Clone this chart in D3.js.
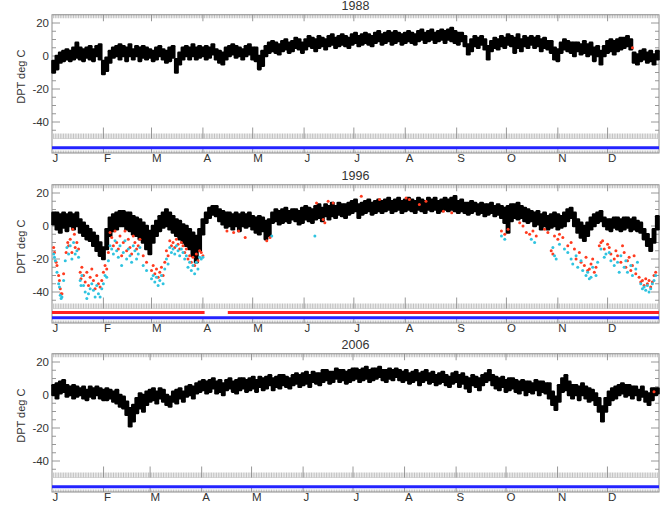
<!DOCTYPE html>
<html><head><meta charset="utf-8">
<script src="https://cdn.jsdelivr.net/npm/d3@7"></script>
<style>body{margin:0;background:#fff}svg{display:block}</style>
</head><body>
<svg id="c" width="667" height="513"></svg>
<script>
// ---------------- DATA ----------------
const years = [1988, 1996, 2006];
const monthLabels = ["J","F","M","A","M","J","J","A","S","O","N","D"];
const yTickValues = [20, 0, -20, -40];
const yLabel = "DPT deg C";
const binDays = 2; // each lo/hi entry covers 2 days

// black series: 2-day low / high of dew point (deg C)
const dpt1988Lo = [-10,-8,-4,-3,-2,-3,-2,-1,-2,-3, -1,-2,-3,0,-2,-11,-9,-4,-1,0, -2,0,-3,0,-2,0,-3,-1,-2,-1, -3,-2,0,-2,-4,-3,-1,-10,-5,-2,
  0,-2,0,-2,-1,0,-2,-1,1,-2, -4,-5,-2,0,1,-1,0,-2,0,1, -2,-3,-8,-6,0,2,3,2,1,3, 4,2,3,5,4,2,4,6,5,3, 5,6,4,6,7,5,6,7,6,5,
  7,8,6,7,8,7,6,8,9,7, 8,9,7,8,9,7,8,9,8,7, 9,10,8,9,10,8,9,10,8,10, 9,8,7,9,6,1,3,6,5,7, 4,-2,3,5,4,6,5,7,6,2,
  5,3,6,5,7,5,6,3,5,4, 2,-2,-3,2,4,3,2,0,3,1, 2,0,1,-3,0,-5,0,2,3,1, 3,4,5,6,4,-4,-5,-3,-2,-4,-3,-5,-2];
const dpt1988Hi = [-3,0,2,3,4,3,5,8,5,4, 5,6,4,6,7,-3,-1,3,5,6, 7,6,5,7,4,6,5,6,5,4, 3,5,6,4,3,5,6,-2,2,5,
  6,5,7,5,6,5,6,5,7,4, 3,2,5,6,7,6,5,4,6,7, 5,5,0,3,6,8,9,8,7,9, 10,8,9,11,10,8,10,12,11,10, 12,11,10,12,13,11,12,13,12,11,
  13,14,12,13,14,13,12,14,15,13, 14,15,14,15,14,13,14,15,14,13, 15,16,14,15,16,14,15,16,15,16, 17,15,14,14,12,7,10,12,11,12, 10,6,9,11,10,12,11,13,12,11,
  13,10,12,11,12,11,12,10,11,9, 9,5,4,8,10,9,8,8,8,7, 9,7,8,5,6,3,6,9,10,9, 10,11,11,12,10,2,1,3,4,2,3,1,3];

const dpt1996Lo = [1,-2,-4,-1,-3,0,-2,0,-4,-6, -8,-9,-12,-15,-18,-20,-14,-6,-3,-2, 0,0,-2,-3,-5,-6,-8,-10,-14,-17, -10,-6,-3,-1,0,-2,-4,-6,-8,-10,
  -12,-14,-18,-22,-15,-5,2,5,7,6, 3,1,-1,0,-2,0,-3,0,-1,0, -2,-4,-5,-3,-8,-6,2,3,1,2, 3,2,4,3,1,2,4,3,2,4, 5,3,6,4,6,5,7,6,5,7,
  8,9,5,7,8,9,7,8,9,8, 9,10,8,9,10,8,9,10,9,8, 10,9,8,10,9,10,8,9,10,9, 10,9,8,9,8,7,8,9,7,8, 6,7,8,6,7,5,2,-4,3,5,
  4,5,3,2,3,0,1,-2,0,-2, -1,0,-2,-1,0,3,5,0,-4,-7, -9,-6,-2,0,2,3,0,-2,-3,-1, -2,-3,-2,-1,-3,-2,-3,-4,-8,-12,-15,-10,-2];
const dpt1996Hi = [8,8,7,8,7,8,7,8,4,2, 0,-2,-4,-6,-10,-13,-2,5,7,8, 9,9,8,8,6,5,4,2,0,-3, 0,3,6,8,10,8,6,4,3,1,
  0,-2,-4,-6,-2,4,8,11,12,12, 10,9,8,8,7,8,7,8,7,8, 6,5,6,5,3,4,8,10,9,10, 11,9,10,10,9,11,12,11,10,12, 13,11,13,12,14,12,14,13,13,14,
  15,16,13,14,15,16,14,15,16,15, 16,17,15,16,17,15,16,17,16,15, 17,16,15,17,16,17,15,16,17,16, 17,18,15,16,14,14,15,14,13,14, 13,13,14,12,13,12,11,12,13,13,
  14,12,11,10,9,8,9,7,8,6, 7,8,7,6,8,10,11,8,4,2, 0,2,5,7,8,9,5,4,4,5, 5,4,5,5,4,5,3,2,-2,-5,-8,-2,6];

const dpt2006Lo = [0,-2,1,2,-1,0,-2,-1,0,-2, -3,-1,-2,0,-2,-3,-3,-2,-4,-5, -7,-8,-12,-19,-16,-11,-8,-10,-6,-4, -3,-5,-2,-4,-6,-7,-4,-5,-2,-4,
  -1,0,-2,1,2,3,1,2,4,1, 2,0,3,4,2,1,3,4,2,3, 4,2,5,3,4,6,3,5,4,6, 5,4,6,7,5,6,7,5,8,7, 6,8,9,7,8,10,8,9,7,8,
  9,10,8,9,10,8,9,10,11,9, 8,10,9,11,9,8,9,7,8,9, 6,8,9,7,8,6,7,8,6,5, 7,8,5,7,4,2,6,5,3,6, 8,9,6,4,3,5,2,3,4,2,
  1,3,0,2,1,3,0,2,1,-2, -6,-9,-4,2,3,0,-2,0,-3,0, -2,-4,-3,-6,-10,-16,-10,-6,-3,-2, 0,1,-1,0,-2,0,-3,-1,-4,-6,-3,0,1];
const dpt2006Hi = [6,7,8,9,6,5,6,5,4,5, 3,5,4,5,4,3,4,3,2,3, 0,-1,-4,-8,-6,-2,1,0,2,3, 4,2,4,3,0,-1,2,3,4,2,
  5,6,5,7,8,9,8,9,10,8, 9,7,9,10,8,9,10,10,9,10, 11,9,11,10,11,12,10,11,12,12, 11,10,12,13,12,13,14,12,14,13, 13,15,15,14,14,16,15,15,14,15,
  16,16,15,16,17,15,16,16,17,15, 15,16,15,16,15,14,15,13,14,15, 13,14,15,13,14,12,13,14,12,11, 13,14,12,13,11,10,12,11,10,12, 13,15,12,11,10,11,9,10,10,9,
  8,9,8,8,7,9,8,8,7,7, 2,-1,6,10,12,8,6,6,5,7, 5,4,3,1,-2,-7,-2,2,4,5, 6,7,6,6,5,5,3,5,2,1,4,4,4];

// red series points [day of year, deg C]
const red1988 = [[350, 5]];
const red1996 = [[1,-13],[1.5,-16],[2.5,-22],[3,-24],[4,-30],[4.5,-33],[5,-38],[5.5,-41],[6,-41],[7,-29],[8.5,-16],[9.5,-10],[10,-12],[11,-8],[12,-16],[12.5,-2],[13.5,-5],[14,-13],[15,-10],[16,-14],
  [17,-28],[17.5,-32],[18,-25],[19,-30],[20,-34],[21,-28],[22,-36],[23,-31],[24,-26],[25,-33],[26,-38],[27,-30],[28,-35],[29,-37],[30,-33],[31,-28],[32,-24],[33,-26],[34,-16],[35,-4],
  [36,-7],[37,-12],[38,-3],[39,-10],[40,-14],[41,-6],[42,-18],[43,-10],[44,-3],[45,-15],[46,-8],[47,-13],[48,-17],[49,-6],[50,-10],[51,-14],[52,-12],[53,-8],[55,-18],[57,-22],
  [60,-27],[61,-24],[62,-29],[63,-26],[64,-31],[65,-28],[66,-25],[67,-30],[68,-22],[69,-15],[70,-18],[71,-9],[72,-12],[73,-10],[74,-13],[75,-8],[76,-11],[77,-14],[78,-10],[79,-12],
  [80,-16],[81,-14],[82,-20],[83,-18],[84,-22],[85,-19],[86,-24],[87,-17],[88,-21],[89,-15],[90,-16],[91,-18],
  [105.5,-3],[109.5,-4],[112.5,-3],[116.5,-7],[129.5,-9],[131.5,-7],[159.5,14],[163.5,4],[164.5,2],[166.5,15],[169.5,14],[186.5,18],[197.5,16],[213.5,17],[215.5,16],[221.5,13],[225.5,15],
  [236,9],[241,8],
  [271,-3],[273,-5],[275,-2],[282,2],[284,0],[286,-4],[288,-5],[290,-3],[292,-6],[297,-2],[299,-4],[301,-15],[302,-17],[303,-6],[305,-8],[306,-5],[308,-7],[311,-12],[313,-10],[315,-14],
  [316,-20],[318,-16],[319,-22],[321,-24],[322,-19],[323,-27],[324,-26],[325,-23],[326,-20],[327,-28],[328,-25],[330,-12],[331,-10],[332,-9],[333,-14],[335,-11],[336,-13],[337,-17],[339,-20],[340,-15],
  [341,-18],[343,-22],[344,-12],[345,-16],[346,-25],[347,-21],[348,-19],[349,-27],[350,-24],[351,-18],[352,-29],[354,-31],[355,-34],[356,-33],[357,-36],[358,-32],[359,-35],[360,-33],[361,-37],[362,-34],[363,-30],[364,-28]];
const red2006 = [[362, 2]];

// cyan series points [day of year, deg C]
const cyan1988 = [];
const cyan1996 = [[1,-17],[1.5,-19],[2,-21],[3,-28],[4,-35],[4.5,-37],[5,-42],[5.5,-44],[6,-43],[7,-33],[8,-21],[9,-13],[10,-17],[11,-12],[12,-20],[13,-10],[14,-17],[15,-15],[16,-19],
  [17,-33],[17.5,-36],[18,-30],[19,-36],[20,-40],[21,-44],[22,-41],[23,-38],[24,-35],[25,-39],[26,-43],[27,-36],[28,-41],[29,-43],[30,-38],[31,-35],[32,-30],[33,-31],[34,-21],[35,-12],
  [36,-14],[37,-17],[38,-9],[39,-15],[40,-19],[41,-12],[42,-24],[43,-16],[44,-9],[45,-20],[46,-14],[47,-18],[48,-22],[49,-12],[50,-15],[51,-20],[52,-17],[53,-13],[55,-24],[57,-27],
  [60,-32],[61,-30],[62,-34],[63,-31],[64,-36],[65,-33],[66,-30],[67,-35],[68,-26],[69,-20],[70,-23],[71,-13],[72,-16],[73,-14],[74,-17],[75,-12],[76,-15],[77,-18],[78,-14],[79,-16],
  [80,-20],[81,-18],[82,-25],[83,-22],[84,-27],[85,-24],[86,-29],[87,-22],[88,-26],[89,-19],[90,-20],[91,-19],
  [132.5,-6],[158.5,-6],
  [271,-6],[273,-8],[289,-8],[291,-10],[302,-13],[303,-18],[304,-20],[306,-11],[309,-14],[311,-16],[313,-20],[314,-23],[316,-18],[317,-25],[319,-21],[320,-27],[322,-30],[323,-28],[324,-32],[325,-31],
  [326,-25],[328,-30],[329,-22],[331,-14],[333,-19],[334,-17],[336,-16],[337,-21],[339,-24],[341,-22],[342,-28],[343,-18],[345,-25],[346,-21],[347,-28],[349,-24],[350,-30],[352,-26],[353,-22],
  [355,-35],[356,-38],[357,-37],[358,-39],[359,-36],[360,-40],[361,-38],[362,-35],[363,-33],[364,-30]];
const cyan2006 = [];

// availability strips: [startDay, endDay]
const stripRed = [[], [[0, 92], [106, 366]], []];
const stripBlue = [[[0, 366]], [[0, 366]], [[0, 365]]];

const loArrays = [dpt1988Lo, dpt1996Lo, dpt2006Lo];
const hiArrays = [dpt1988Hi, dpt1996Hi, dpt2006Hi];
const redArrays = [red1988, red1996, red2006];
const cyanArrays = [cyan1988, cyan1996, cyan2006];

// ---------------- DRAW ----------------
const svg = d3.select("#c");
const FONT = "'Liberation Sans', Arial, Helvetica, sans-serif";
const AX = "#8c8c8c", TXT = "#333";
const xL = 52, xR = 659;
const panelTop = [14.75, 184.75, 353.75];
const mainH = 123.75, stripH = 14.5;

years.forEach((yr, p) => {
  const top = panelTop[p];
  const mainBot = top + mainH, bot = mainBot + stripH;
  const nDays = d3.timeDay.count(new Date(yr, 0, 1), new Date(yr + 1, 0, 1));
  const x = d3.scaleLinear().domain([0, nDays]).range([xL, xR]);
  const y = d3.scaleLinear().domain([-50, 25]).range([mainBot, top]);
  const g = svg.append("g");
  const monthStarts = d3.range(12).map(m => d3.timeDay.count(new Date(yr, 0, 1), new Date(yr, m, 1)));
  const days = d3.range(1, nDays);

  // title
  g.append("text").attr("x", (xL + xR) / 2).attr("y", top - 4.5).attr("text-anchor", "middle")
    .attr("font-family", FONT).attr("font-size", 12.5).attr("fill", TXT).text(String(yr));

  // y label
  g.append("text").attr("transform", `translate(25,${(top + mainBot) / 2}) rotate(-90)`)
    .attr("text-anchor", "middle").attr("font-family", FONT).attr("font-size", 11).attr("fill", TXT).text(yLabel);

  // frame
  g.append("rect").attr("x", xL).attr("y", top).attr("width", xR - xL).attr("height", bot - top)
    .attr("fill", "none").attr("stroke", AX).attr("stroke-width", 1);
  g.append("line").attr("x1", xL).attr("x2", xR).attr("y1", mainBot).attr("y2", mainBot)
    .attr("stroke", "#c8c8c8").attr("stroke-width", 0.6);

  // x daily minor ticks: top, main bottom, strip bottom
  const tk = g.append("g").attr("stroke", AX).attr("stroke-width", 0.55);
  days.forEach(d => {
    const xx = x(d);
    tk.append("line").attr("x1", xx).attr("x2", xx).attr("y1", top).attr("y2", top + 3.5);
    tk.append("line").attr("x1", xx).attr("x2", xx).attr("y1", mainBot).attr("y2", mainBot - 5);
    tk.append("line").attr("x1", xx).attr("x2", xx).attr("y1", bot).attr("y2", bot - 2.5);
  });
  const tkM = g.append("g").attr("stroke", AX).attr("stroke-width", 0.9);
  monthStarts.slice(1).forEach(d => {
    const xx = x(d);
    tkM.append("line").attr("x1", xx).attr("x2", xx).attr("y1", top).attr("y2", top + 6.5);
    tkM.append("line").attr("x1", xx).attr("x2", xx).attr("y1", mainBot).attr("y2", mainBot - 11);
    tkM.append("line").attr("x1", xx).attr("x2", xx).attr("y1", bot).attr("y2", bot - 5);
  });

  // y ticks (minor every 5, major at labelled values)
  const yt = g.append("g").attr("stroke", AX).attr("stroke-width", 0.9);
  d3.range(-45, 25, 5).forEach(v => {
    const len = yTickValues.includes(v) ? 8 : 4;
    yt.append("line").attr("x1", xL).attr("x2", xL + len).attr("y1", y(v)).attr("y2", y(v));
    yt.append("line").attr("x1", xR).attr("x2", xR - len).attr("y1", y(v)).attr("y2", y(v));
  });
  yTickValues.forEach(v => {
    g.append("text").attr("x", xL - 3).attr("y", y(v) + 4).attr("text-anchor", "end")
      .attr("font-family", FONT).attr("font-size", 11.5).attr("fill", TXT).text(String(v));
  });

  // month labels
  monthStarts.forEach((d, i) => {
    g.append("text").attr("x", x(d) + 0.5).attr("y", bot + 9).attr("font-family", FONT)
      .attr("font-size", 11.5).attr("fill", TXT).text(monthLabels[i]);
  });

  // black band (2-day low/high)
  const lo = loArrays[p], hi = hiArrays[p];
  g.append("g").selectAll("rect").data(lo.map((l, i) => ({d: i * binDays, lo: l, hi: hi[i]})))
    .join("rect")
    .attr("x", d => x(d.d) - 0.8)
    .attr("width", d => x(Math.min(d.d + binDays, nDays)) - x(d.d) + 1.6)
    .attr("y", d => y(d.hi) - 1.2)
    .attr("height", d => y(d.lo) - y(d.hi) + 2.4)
    .attr("rx", 1.3).attr("fill", "#000");

  // red & cyan points
  g.append("g").selectAll("circle").data(redArrays[p]).join("circle")
    .attr("cx", d => x(d[0])).attr("cy", d => y(d[1])).attr("r", 1.5).attr("fill", "#ff3b1f");
  g.append("g").selectAll("circle").data(cyanArrays[p]).join("circle")
    .attr("cx", d => x(d[0])).attr("cy", d => y(d[1])).attr("r", 1.5).attr("fill", "#2fc3e0");

  // availability strips
  stripRed[p].forEach(s => {
    g.append("line").attr("x1", x(s[0])).attr("x2", x(Math.min(s[1], nDays))).attr("y1", top + 127.7).attr("y2", top + 127.7)
      .attr("stroke", "#ff2020").attr("stroke-width", 3);
  });
  stripBlue[p].forEach(s => {
    g.append("line").attr("x1", x(s[0])).attr("x2", x(Math.min(s[1], nDays))).attr("y1", top + 133).attr("y2", top + 133)
      .attr("stroke", "#2323ff").attr("stroke-width", 3);
  });
});
</script>
</body></html>
